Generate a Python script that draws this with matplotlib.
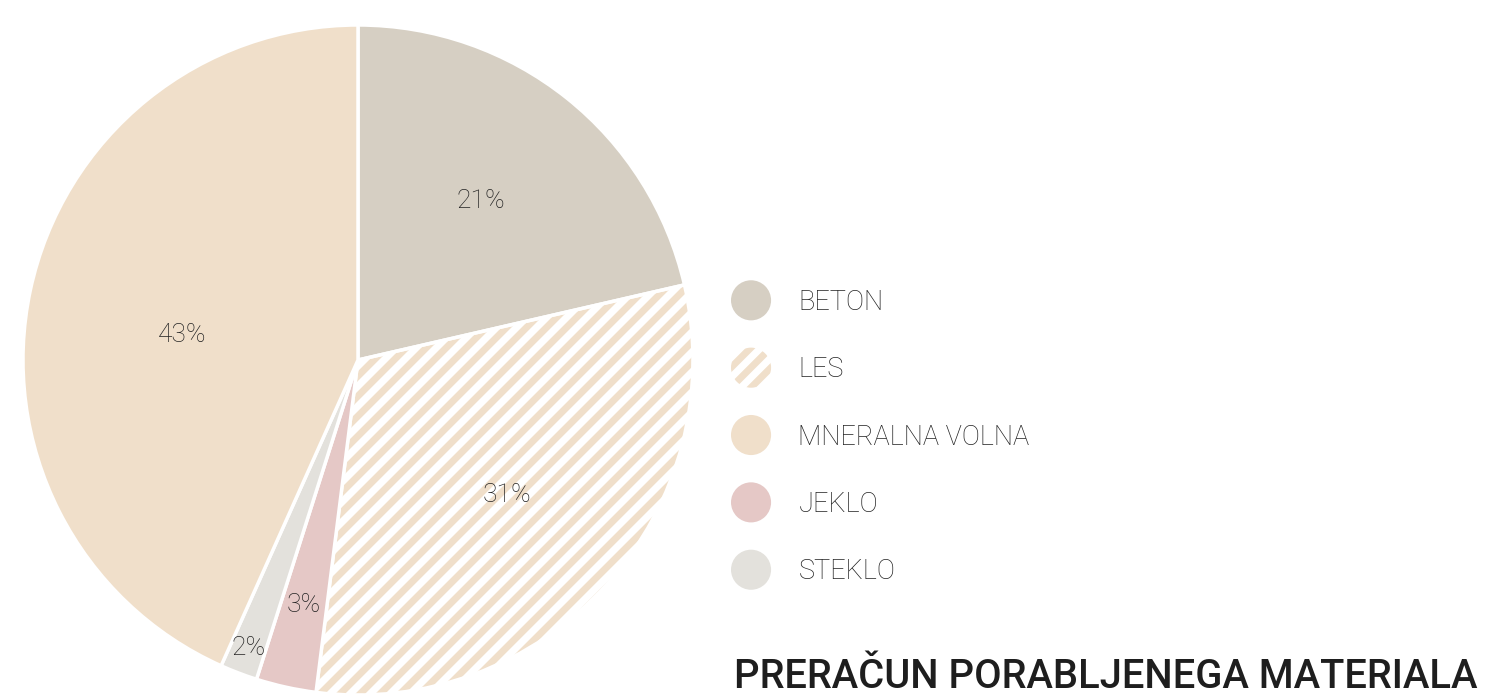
import matplotlib
matplotlib.use("Agg")
import matplotlib.pyplot as plt
from matplotlib.patches import Circle
from matplotlib.collections import LineCollection
from matplotlib.legend_handler import HandlerPatch
import numpy as np

plt.rcParams['font.family'] = ['Roboto', 'DejaVu Sans']

# slices in drawing order (clockwise from the top)
labels = ['BETON', 'LES', 'JEKLO', 'STEKLO', 'MNERALNA VOLNA']
values = [21.4, 30.6, 2.9, 1.8, 43.3]
colors = ['#d6cfc3', '#f0dfca', '#e5c8c6', '#e3e1dc', '#f0dfca']
striped = [False, True, False, False, False]
label_dist = [0.6, 0.6, 0.75, 0.92, 0.53]
label_turn = [1, 0, 0, 0, 4]  # small angular nudges of the % labels (deg)

legend_order = ['BETON', 'LES', 'MNERALNA VOLNA', 'JEKLO', 'STEKLO']

W, H = 1485, 699
fig = plt.figure(figsize=(W / 100, H / 100), dpi=100)
R = 335
cx, cy = 358, H - 360
ax = fig.add_axes([(cx - R) / W, (cy - R) / H, 2 * R / W, 2 * R / H])

wedges, _ = ax.pie(values, colors=colors, startangle=90, counterclock=False,
                   radius=1, wedgeprops=dict(edgecolor='white', linewidth=2.5))
ax.set_xlim(-1, 1)
ax.set_ylim(-1, 1)
ax.set_aspect('equal')
ax.axis('off')


def stripes(period, extent):
    # diagonal (45 deg) line segments covering a square of half-size `extent`
    cs = np.arange(-2 * extent, 2 * extent, period)
    return [[(c - extent, -extent), (c + extent, extent)] for c in cs]


period = 20 / R  # ~20 px between stripes along a horizontal line
for w, s, c in zip(wedges, striped, colors):
    if s:
        w.set_facecolor('none')
        lc = LineCollection(stripes(period, 1.2), colors=c, linewidths=5, zorder=0.5)
        ax.add_collection(lc)
        lc.set_clip_path(w)

# percentage labels
for w, v, d, t in zip(wedges, values, label_dist, label_turn):
    ang = np.deg2rad((w.theta1 + w.theta2) / 2 + t)
    ax.text(d * np.cos(ang), d * np.sin(ang), f'{v:.0f}%', ha='center', va='center',
            fontsize=19, fontweight='light', color='#222222')


class HandlerCircle(HandlerPatch):
    def create_artists(self, legend, orig_handle, xdescent, ydescent, width, height, fontsize, trans):
        r = 0.74 * fontsize
        x0, y0 = width / 2 - xdescent, height / 2 - ydescent
        c = Circle((x0, y0), r)
        self.update_prop(c, orig_handle, legend)
        c.set_transform(trans)
        if getattr(orig_handle, 'striped', False):
            segs = [[(x0 + a, y0 + b) for a, b in seg] for seg in stripes(14.4, 1.5 * r)]
            lc = LineCollection(segs, colors=orig_handle.stripe_color, linewidths=5)
            lc.set_transform(trans)
            lc.set_clip_path(c)
            return [c, lc]
        return [c]


handles = []
for name in legend_order:
    i = labels.index(name)
    if striped[i]:
        p = Circle((0, 0), 1, facecolor='white', edgecolor='none')
        p.striped = True
        p.stripe_color = colors[i]
    else:
        p = Circle((0, 0), 1, facecolor=colors[i], edgecolor='none')
    handles.append(p)

fig.legend(handles, legend_order, loc='center left', bbox_to_anchor=(705 / W, 1 - 437 / H),
           frameon=False, prop=dict(family='Roboto', weight='light', size=19.5),
           handler_map={Circle: HandlerCircle()}, labelspacing=1.49, handlelength=1.6,
           handletextpad=0.95, labelcolor='#222222')

fig.text(1477 / W, 1 - 677 / H, 'PRERAČUN PORABLJENEGA MATERIALA', ha='right', va='center',
         fontsize=28.7, fontweight='medium', color='#1e1e1e')

fig.savefig('out.png', dpi=100)
